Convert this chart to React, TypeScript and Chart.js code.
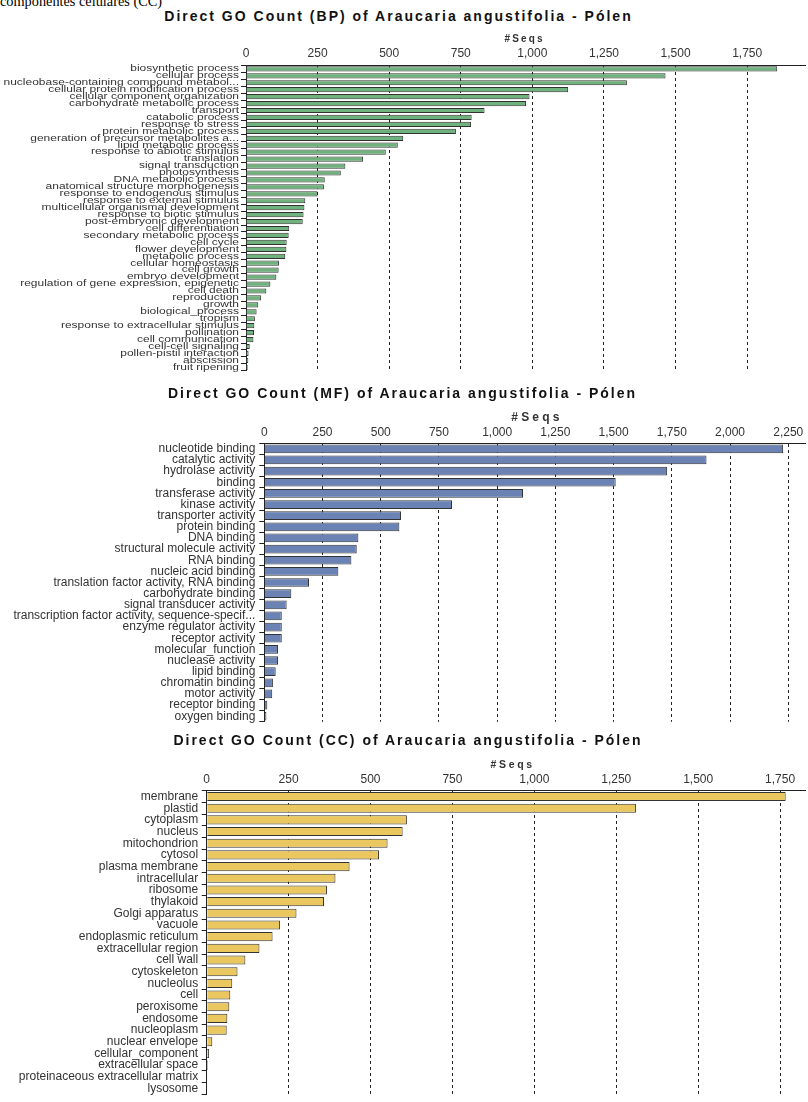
import React, { useEffect, useRef } from 'react';
import { Chart, registerables } from 'chart.js';

Chart.register(...registerables);

// ---------- data ----------
const bpTitle = 'Direct GO Count (BP) of Araucaria angustifolia - Pólen';
const mfTitle = 'Direct GO Count (MF) of Araucaria angustifolia - Pólen';
const ccTitle = 'Direct GO Count (CC) of Araucaria angustifolia - Pólen';
const axisTitle = '#Seqs';
const tickStep = 250;

const bpLabels = [
  'biosynthetic process',
  'cellular process',
  'nucleobase-containing compound metabol...',
  'cellular protein modification process',
  'cellular component organization',
  'carbohydrate metabolic process',
  'transport',
  'catabolic process',
  'response to stress',
  'protein metabolic process',
  'generation of precursor metabolites a...',
  'lipid metabolic process',
  'response to abiotic stimulus',
  'translation',
  'signal transduction',
  'photosynthesis',
  'DNA metabolic process',
  'anatomical structure morphogenesis',
  'response to endogenous stimulus',
  'response to external stimulus',
  'multicellular organismal development',
  'response to biotic stimulus',
  'post-embryonic development',
  'cell differentiation',
  'secondary metabolic process',
  'cell cycle',
  'flower development',
  'metabolic process',
  'cellular homeostasis',
  'cell growth',
  'embryo development',
  'regulation of gene expression, epigenetic',
  'cell death',
  'reproduction',
  'growth',
  'biological_process',
  'tropism',
  'response to extracellular stimulus',
  'pollination',
  'cell communication',
  'cell-cell signaling',
  'pollen-pistil interaction',
  'abscission',
  'fruit ripening',
];
const bpValues = [
  1855, 1465, 1330, 1125, 990, 978, 833, 788, 786, 733, 549, 530, 488, 409, 347, 331, 275, 272,
  250, 207, 204, 201, 198, 151, 149, 142, 141, 137, 115, 114, 106, 85, 71, 53, 43, 37, 31, 29,
  28, 26, 13, 9, 8, 6,
];

const mfLabels = [
  'nucleotide binding',
  'catalytic activity',
  'hydrolase activity',
  'binding',
  'transferase activity',
  'kinase activity',
  'transporter activity',
  'protein binding',
  'DNA binding',
  'structural molecule activity',
  'RNA binding',
  'nucleic acid binding',
  'translation factor activity, RNA binding',
  'carbohydrate binding',
  'signal transducer activity',
  'transcription factor activity, sequence-specif...',
  'enzyme regulator activity',
  'receptor activity',
  'molecular_function',
  'nuclease activity',
  'lipid binding',
  'chromatin binding',
  'motor activity',
  'receptor binding',
  'oxygen binding',
];
const mfValues = [
  2228, 1899, 1730, 1509, 1111, 806, 587, 580, 404, 397, 374, 318, 192, 116, 96, 75, 75, 75, 59,
  59, 49, 37, 34, 13, 9,
];

const ccLabels = [
  'membrane',
  'plastid',
  'cytoplasm',
  'nucleus',
  'mitochondrion',
  'cytosol',
  'plasma membrane',
  'intracellular',
  'ribosome',
  'thylakoid',
  'Golgi apparatus',
  'vacuole',
  'endoplasmic reticulum',
  'extracellular region',
  'cell wall',
  'cytoskeleton',
  'nucleolus',
  'cell',
  'peroxisome',
  'endosome',
  'nucleoplasm',
  'nuclear envelope',
  'cellular_component',
  'extracellular space',
  'proteinaceous extracellular matrix',
  'lysosome',
];
const ccValues = [
  1767, 1310, 611, 598, 552, 526, 436, 393, 367, 358, 274, 224, 201, 161, 118, 94, 78, 72, 69,
  63, 61, 17, 7, 4, 1, 1,
];

// ---------- chart ----------
const FONT = '"Liberation Sans", Arial, Helvetica, sans-serif';
Chart.defaults.font.family = FONT;

const squashLabels = {
  id: 'squashLabels',
  afterDraw(chart: any) {
    const scale = chart.scales.y;
    const ctx = chart.ctx;
    const labels = chart.data.labels as string[];
    ctx.save();
    ctx.font = '12px ' + FONT;
    ctx.fillStyle = '#333';
    ctx.textAlign = 'right';
    ctx.textBaseline = 'middle';
    scale.ticks.forEach((_t: any, i: number) => {
      const y = scale.getPixelForTick(i);
      ctx.save();
      ctx.translate(scale.right - 7, y);
      ctx.scale(1, 0.7);
      ctx.fillText(labels[i], 0, 0);
      ctx.restore();
    });
    ctx.restore();
  },
};

type Props = {
  labels: string[];
  values: number[];
  color: string;
  max: number;
  top: number;
  height: number;
  axisLeft: number;
  axisHeight: number;
  tickPad: number;
  labelPad: number;
  barPct: number;
  padBottom: number;
  squash?: boolean;
};

function GoChart(p: Props) {
  const ref = useRef<HTMLCanvasElement | null>(null);
  useEffect(() => {
    if (!ref.current) return;
    const chart = new Chart(ref.current, {
      type: 'bar',
      data: {
        labels: p.labels,
        datasets: [
          {
            data: p.values,
            backgroundColor: p.color,
            borderColor: '#333',
            borderWidth: 1,
            barPercentage: p.barPct,
            categoryPercentage: 1,
          },
        ],
      },
      plugins: p.squash ? [squashLabels] : [],
      options: {
        indexAxis: 'y',
        animation: false,
        responsive: false,
        devicePixelRatio: 1,
        layout: { padding: { top: 0, left: 0, right: 3, bottom: p.padBottom } },
        plugins: {
          legend: { display: false },
          tooltip: { enabled: false },
          title: { display: false },
        },
        scales: {
          x: {
            type: 'linear',
            position: 'top',
            min: 0,
            max: p.max,
            ticks: {
              stepSize: tickStep,
              autoSkip: false,
              maxRotation: 0,
              minRotation: 0,
              padding: p.tickPad,
              color: '#333',
              font: { size: 12 },
              callback: (v: any) => Number(v).toLocaleString('en-US'),
            },
            grid: { color: '#222', lineWidth: 1, drawTicks: false },
            border: { display: true, color: '#222', width: 1, dash: [3, 3] },
            afterBuildTicks: (a: any) => {
              const t: any[] = [];
              for (let v = 0; v <= a.max; v += tickStep) t.push({ value: v });
              a.ticks = t;
            },
            afterFit: (s: any) => {
              s.height = p.axisHeight;
            },
          },
          y: {
            type: 'category',
            ticks: {
              autoSkip: false,
              padding: p.labelPad,
              color: p.squash ? 'rgba(0,0,0,0)' : '#333',
              font: { size: 12 },
            },
            grid: { drawOnChartArea: false, drawTicks: true, tickLength: 5, color: '#222' },
            border: { display: true, color: '#222', width: 1 },
            afterFit: (s: any) => {
              s.width = p.axisLeft;
            },
          },
        },
      } as any,
    });
    return () => chart.destroy();
  }, []);
  return (
    <canvas
      ref={ref}
      width={808}
      height={p.height}
      style={{ position: 'absolute', left: 0, top: p.top, width: 808, height: p.height }}
    />
  );
}

function Title(props: { text: string; top: number; cx: number }) {
  return (
    <div
      style={{
        position: 'absolute',
        top: props.top,
        left: props.cx - 300,
        width: 600,
        paddingLeft: 2,
        textAlign: 'center',
        font: 'bold 14px ' + FONT,
        lineHeight: '16px',
        letterSpacing: '2px',
        color: '#111',
        whiteSpace: 'nowrap',
        zIndex: 2,
      }}
    >
      {props.text}
    </div>
  );
}

function AxisTitle(props: { top: number; cx: number; size: number; ls: number }) {
  return (
    <div
      style={{
        position: 'absolute',
        top: props.top,
        left: props.cx - 50,
        width: 100,
        paddingLeft: props.ls,
        textAlign: 'center',
        font: `bold ${props.size}px ` + FONT,
        lineHeight: `${Math.round(props.size * 1.2)}px`,
        letterSpacing: `${props.ls}px`,
        color: '#333',
        whiteSpace: 'nowrap',
        zIndex: 2,
      }}
    >
      {axisTitle}
    </div>
  );
}

export default function App() {
  return (
    <div
      style={{
        position: 'absolute',
        left: 0,
        top: 0,
        width: 808,
        height: 1102,
        overflow: 'hidden',
        background: '#fff',
      }}
    >
      <div
        style={{
          position: 'absolute',
          top: -9,
          left: 0,
          font: '14.3px "Liberation Serif", "Times New Roman", serif',
          lineHeight: '20px',
          whiteSpace: 'nowrap',
          color: '#000',
        }}
      >
        componentes celulares (CC)
      </div>

      <GoChart
        labels={bpLabels}
        values={bpValues}
        color="#70b27d"
        max={1952}
        top={24}
        height={357}
        axisLeft={246}
        axisHeight={41.4}
        tickPad={5}
        labelPad={3}
        barPct={0.75}
        padBottom={2.5}
        squash
      />
      <GoChart
        labels={mfLabels}
        values={mfValues}
        color="#6a83b4"
        max={2322}
        top={381}
        height={352}
        axisLeft={264.3}
        axisHeight={62.25}
        tickPad={3.7}
        labelPad={4}
        barPct={0.78}
        padBottom={2.25}
      />
      <GoChart
        labels={ccLabels}
        values={ccValues}
        color="#ebc85f"
        max={1826}
        top={733}
        height={372}
        axisLeft={206.7}
        axisHeight={57.7}
        tickPad={3.5}
        labelPad={3.5}
        barPct={0.78}
        padBottom={1.8}
      />

      <Title text={bpTitle} top={8.3} cx={396.5} />
      <Title text={mfTitle} top={384.6} cx={400.5} />
      <Title text={ccTitle} top={731.5} cx={406} />
      <AxisTitle top={32.7} cx={522.5} size={10} ls={2.1} />
      <AxisTitle top={410.3} cx={533.8} size={12} ls={3.2} />
      <AxisTitle top={757.8} cx={510} size={10.5} ls={2.7} />
    </div>
  );
}
